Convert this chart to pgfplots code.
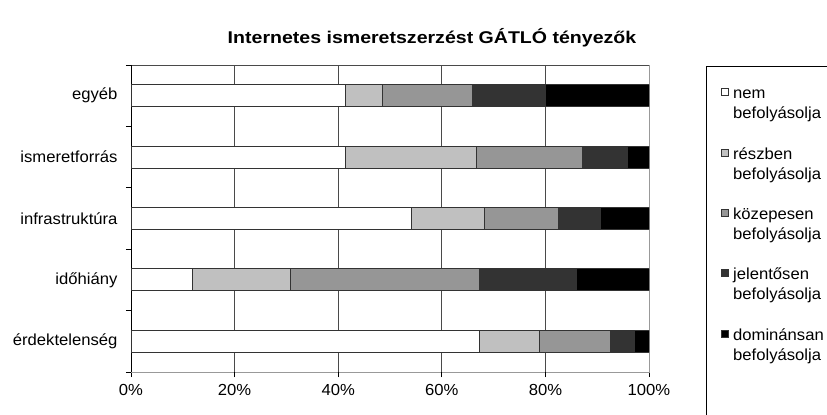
\documentclass[border=0pt]{standalone}
\usepackage{fontspec}
\setmainfont{Liberation Sans}[FakeStretch=1.04]
\newfontfamily\titlefont{Liberation Sans}[FakeStretch=1.15]
\usepackage{pgfplots}
\pgfplotsset{compat=1.18}

% fill shades of the five answer levels
\definecolor{lvlA}{HTML}{FFFFFF}
\definecolor{lvlB}{HTML}{C0C0C0}
\definecolor{lvlC}{HTML}{969696}
\definecolor{lvlD}{HTML}{333333}
\definecolor{lvlE}{HTML}{000000}
\definecolor{gridgray}{HTML}{4A4A4A}

\newcommand{\lblfont}{\fontsize{16bp}{17bp}\selectfont}
\newcommand{\twoline}[2]{\strut #1\\[3bp]\strut #2}

\begin{document}
\begin{tikzpicture}
\begin{axis}[
  scale only axis, width=518bp, height=307bp,
  xbar stacked, bar width=22bp,
  xmin=0, xmax=100, ymin=-0.5, ymax=4.5,
  axis line style={draw=black!40},
  tick align=outside,
  xtick={0,20,...,100},
  xtick pos=lower,
  xticklabel={\pgfmathprintnumber{\tick}\%},
  extra x ticks={20,40,60,80},
  extra x tick labels={},
  extra x tick style={grid=major, major grid style={gridgray, line width=0.8bp}},
  ytick={-0.5,0.5,...,4.5},
  yticklabels={},
  ytick pos=left,
  extra y ticks={0,1,2,3,4},
  extra y tick labels={érdektelenség,időhiány,infrastruktúra,ismeretforrás,egyéb},
  extra y tick style={major tick length=0pt},
  major tick length=5bp,
  tick style={black, line width=0.8bp},
  /pgf/number format/assume math mode=true,
  tick label style={font=\lblfont},
  yticklabel style={xshift=-10bp},
  xticklabel style={yshift=-4bp},
  every axis plot/.append style={draw=black!80, line width=0.8bp},
  legend image code/.code={\draw[#1, draw=black!80, line width=0.8bp] (0bp,8bp) rectangle (7bp,15bp);},
  legend style={
    at={(1.1100,0.9967)}, anchor=north west,
    draw=black, line width=0.8bp, fill=white,
    inner xsep=15bp, inner ysep=18.5bp,
    row sep=23bp, column sep=2bp,
    font=\lblfont,
    cells={anchor=west, align=left},
  },
]
% bottom-to-top: érdektelenség, időhiány, infrastruktúra, ismeretforrás, egyéb
\addplot[fill=lvlA] coordinates {(67.2,0) (11.8,1) (54.2,2) (41.4,3) (41.4,4)};
\addlegendentry{\twoline{nem}{befolyásolja}}
\addplot[fill=lvlB] coordinates {(11.7,0) (18.9,1) (14.1,2) (25.3,3) (7.2,4)};
\addlegendentry{\twoline{részben}{befolyásolja}}
\addplot[fill=lvlC] coordinates {(13.7,0) (36.6,1) (14.2,2) (20.5,3) (17.3,4)};
\addlegendentry{\twoline{közepesen}{befolyásolja}}
\addplot[fill=lvlD] coordinates {(4.5,0) (18.6,1) (8.1,2) (8.6,3) (14.1,4)};
\addlegendentry{\twoline{jelentősen}{befolyásolja}}
\addplot[fill=lvlE] coordinates {(2.9,0) (14.1,1) (9.4,2) (4.2,3) (20.0,4)};
\addlegendentry{\twoline{dominánsan}{befolyásolja}}
\addlegendimage{empty legend}
\addlegendentry{\twoline{}{}}
% darker frame on the left, bottom and top
\draw[black, line width=0.8bp] (rel axis cs:0,1) -- (rel axis cs:0,0) -- (rel axis cs:1,0);
\draw[gridgray, line width=0.8bp] (rel axis cs:0,1) -- (rel axis cs:1,1);
\end{axis}
\node[font=\titlefont\bfseries\fontsize{17bp}{20bp}\selectfont] at (301bp,334bp) {Internetes ismeretszerzést GÁTLÓ tényezők};
\pgfresetboundingbox
\path[use as bounding box] (-131bp,-43bp) rectangle (696bp,372bp);
\end{tikzpicture}
\end{document}
